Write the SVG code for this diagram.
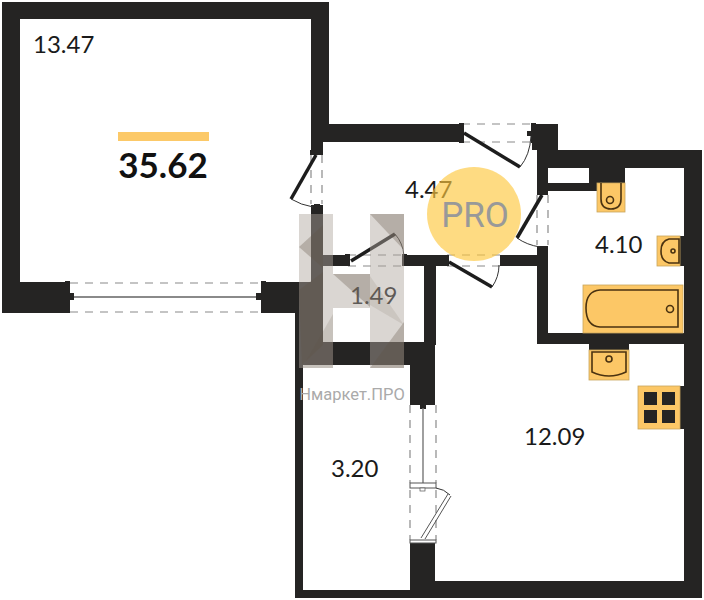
<svg xmlns="http://www.w3.org/2000/svg" width="704" height="600" viewBox="0 0 704 600">
<style>
.t{font-family:Lato,"Open Sans",sans-serif;font-size:24px;fill:#1a1a1a}
.w{fill:#252423}
.d{fill:none;stroke:#8a8a8a;stroke-width:1.2;stroke-dasharray:8 7}
.l{fill:none;stroke:#1d1d1d;stroke-width:3.5}
.a{fill:none;stroke:#333;stroke-width:1}
.j{fill:#252423}
.f{fill:#fcc766;stroke:#c9a55c;stroke-width:.8}
.s{fill:none;stroke:#4a3210;stroke-width:1.6}
</style>
<rect width="704" height="600" fill="#fff"/>
<g id="walls">
<path class="w" d="M2 2H329V124H460V142H323V150H311V19H20V282H68V313H2Z"/>
<rect class="w" x="532" y="124" width="26" height="26"/>
<rect class="w" x="537" y="124" width="11" height="68"/>
<path class="w" d="M548 150H702V598H295V313H262V282H303V590H410V543H435V581H684V168H548Z"/>
<rect class="w" x="311" y="207" width="12" height="135"/>
<rect class="w" x="303" y="282" width="20" height="83"/>
<rect class="w" x="323" y="342" width="112" height="23"/>
<rect class="w" x="410" y="342" width="25" height="59"/>
<rect class="w" x="424" y="255" width="12" height="90"/>
<rect class="w" x="311" y="255" width="35" height="11"/>
<rect class="w" x="404" y="255" width="41" height="11"/>
<rect class="w" x="503" y="255" width="45" height="11"/>
<rect class="w" x="537" y="246" width="11" height="98"/>
<rect class="w" x="537" y="333" width="150" height="11"/>
<rect class="w" x="589" y="168" width="8" height="23"/>
<rect class="w" x="548" y="183" width="49" height="8"/>
<rect class="w" x="597" y="168" width="28" height="15"/>
<rect class="w" x="589" y="344" width="40" height="6"/>
<rect class="w" x="680" y="236" width="4" height="30"/>
<rect class="w" x="680" y="386" width="4" height="43"/>
</g>
<g id="connectors">
<path class="d" d="M70 283H262M70 312H262"/>
<path d="M72 297H260" stroke="#8a8a8a" stroke-width="2"/>
<rect class="j" x="65" y="281" width="5" height="32"/><rect class="j" x="69" y="293" width="5" height="7"/>
<rect class="j" x="261" y="281" width="5" height="32"/><rect class="j" x="256" y="293" width="5" height="7"/>
<path class="d" d="M462 124H532M462 142H532"/>
<rect class="j" x="459" y="123" width="5" height="20"/><rect class="j" x="531" y="123" width="5" height="20"/><rect class="j" x="527" y="131" width="4" height="5"/>
<path class="l" d="M464 133L520 167"/><path class="a" d="M520 167Q530 155 531 136"/>
<path class="d" d="M311 155V204M322 155V204"/>
<rect class="j" x="310" y="150" width="13" height="5"/><rect class="j" x="311" y="205" width="12" height="5"/><rect class="j" x="314" y="204" width="6" height="3"/>
<path class="l" d="M316 155L291 199"/><path class="a" d="M291 199Q301 205 313 207"/>
<path class="d" d="M537 195V245M548 195V245"/>
<rect class="j" x="537" y="190" width="11" height="5"/><rect class="j" x="537" y="246" width="11" height="5"/>
<path class="l" d="M542 195L517 238"/><path class="a" d="M517 238Q527 245 540 247"/>
<path class="d" d="M348 255H404M348 266H404"/>
<rect class="j" x="345" y="254" width="5" height="12"/><rect class="j" x="402" y="254" width="5" height="12"/>
<path class="l" d="M351 261L395 234"/><path class="a" d="M395 234Q403 243 404 256"/>
<path class="d" d="M447 255H503M447 266H503"/>
<rect class="j" x="444" y="255" width="5" height="11"/><rect class="j" x="500" y="255" width="5" height="11"/>
<path class="l" d="M449 262L492 287"/><path class="a" d="M492 287Q499 277 499 265"/>
<path class="d" d="M410 405V483M436 405V483M410 490V540M436 490V540"/>
<rect class="j" x="410" y="400" width="25" height="5"/><rect class="j" x="420" y="405" width="6" height="4"/>
<path d="M423 408V483" stroke="#777" stroke-width="1.4"/>
<rect x="410" y="483" width="26" height="5" fill="#fff" stroke="#555"/>
<rect x="420" y="488" width="5" height="3" fill="#fff" stroke="#555" stroke-width=".7"/>
<path d="M421 538L448 494M425 539L451 496" stroke="#555" stroke-width="1" fill="none"/>
<path class="a" d="M436 488Q444 489 450 495"/>
<rect x="410" y="540" width="26" height="3" fill="#fff" stroke="#555"/>
</g>
<g id="fixtures">
<rect class="f" x="597" y="183" width="28" height="29"/>
<path class="s" d="M601 183V199Q601 209 611 209Q621 209 621 199V183"/><circle class="s" cx="610" cy="200" r="3.5"/>
<rect class="f" x="657" y="236" width="23" height="30"/>
<path class="s" d="M679 239H669Q661 241 661 251Q661 261 669 263H679Z"/><circle class="s" cx="673" cy="251" r="2"/>
<rect class="f" x="583" y="285" width="100" height="48"/>
<path class="s" d="M678 290H600Q586 291 586 308Q586 326 600 327H678Z"/><circle class="s" cx="670" cy="309" r="3.5"/>
<rect class="f" x="589" y="350" width="40" height="30"/>
<path class="s" d="M592 352V372Q609 380 626 372V352Z"/><circle class="s" cx="609" cy="359" r="3"/>
<rect class="f" x="638" y="386" width="42" height="43"/>
<g class="j"><rect x="644" y="392" width="13" height="13"/><rect x="662" y="392" width="13" height="13"/><rect x="644" y="410" width="13" height="13"/><rect x="662" y="410" width="13" height="13"/></g>
</g>
<g id="labels">
<text class="t" x="33" y="53">13.47</text>
<text class="t" x="405" y="198">4.47</text>
<text class="t" x="595" y="253">4.10</text>
<text class="t" x="350" y="304">1.49</text>
<text class="t" x="524" y="445">12.09</text>
<text class="t" x="331" y="477">3.20</text>
<rect x="118" y="132" width="91" height="9" fill="#fcc968"/>
<text x="163" y="178" text-anchor="middle" style="font-family:Lato,sans-serif;font-weight:700;font-size:35px;fill:#111">35.62</text>
</g>
<g id="watermark">
<circle cx="474" cy="214" r="47" fill="#fdc73f" fill-opacity=".65"/>
<text x="475" y="227" text-anchor="middle" style="font-family:Roboto,sans-serif;font-size:35px;fill:#999">PRO</text>
<path d="M299 214H333V274H370V214H404V368H370V308H333V368H299Z" fill="#aea59c" fill-opacity=".46"/>
<g fill="#5f5244" fill-opacity=".3">
<path d="M299 247L323 225V268Z"/>
<path d="M370 214H404V250Z"/>
<path d="M333 274H370V307Z"/>
<path d="M299 290L323 272V345L302 365Z"/>
<path d="M370 368L404 322V368Z"/>
<path d="M370 276L404 325L370 305Z" fill-opacity=".12"/>
<path d="M333 314L302 368H333Z" fill-opacity=".15"/>
</g>
<text x="352" y="400" text-anchor="middle" style="font-family:Roboto,sans-serif;font-size:16.5px;fill:#aaa">Нмаркет.ПРО</text>
</g>
</svg>
